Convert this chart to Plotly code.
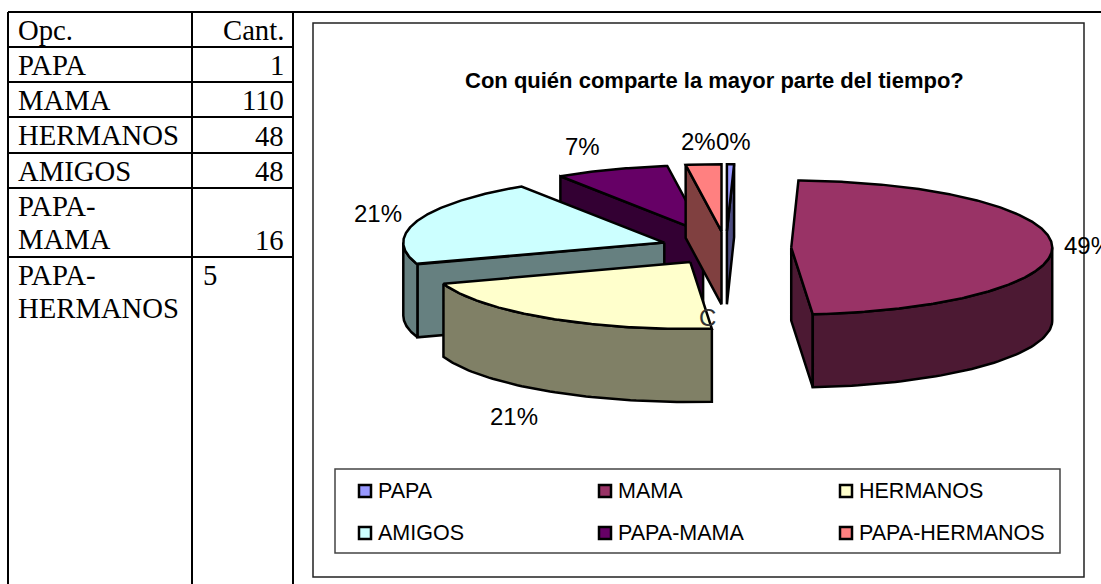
import numpy as np
import plotly.graph_objects as go

# ---- data ----
categories = ["PAPA", "MAMA", "HERMANOS", "AMIGOS", "PAPA-MAMA", "PAPA-HERMANOS"]
table_labels = [["PAPA"], ["MAMA"], ["HERMANOS"], ["AMIGOS"], ["PAPA-", "MAMA"], ["PAPA-", "HERMANOS"]]
values = [1, 110, 48, 48, 16, 5]
pct_labels = ["0%", "49%", "21%", "21%", "7%", "2%"]
title_text = "Con quién comparte la mayor parte del tiempo?"

# ---- style ----
top_colors = ["#9999FF", "#993366", "#FFFFCC", "#CCFFFF", "#660066", "#FF8080"]
side_colors = ["#4C4C80", "#4C1933", "#808066", "#668080", "#330033", "#804040"]
CX, CY, RX, RY, DEPTH, EXPLODE = 726, 248, 261, 67, 73, 0.25
draw_order = [4, 3, 5, 0, 2, 1]
label_pos = [(733, 141), (1088, 245), (514, 416), (378, 213), (582, 146), (698, 141)]

total = sum(values)
edges = np.concatenate([[0], np.cumsum(values)]) * 360.0 / total
fig = go.Figure()


def poly(xs, ys, color, name):
    fig.add_trace(go.Scatter(
        x=list(xs) + [xs[0]], y=list(ys) + [ys[0]], mode="lines", fill="toself",
        fillcolor=color, line=dict(color="black", width=2.5), name=name,
        showlegend=False, hoverinfo="name"))


for i in draw_order:
    a0, a1 = edges[i], edges[i + 1]
    mid = np.radians((a0 + a1) / 2)
    ox = CX + EXPLODE * RX * np.sin(mid)
    oy = CY - EXPLODE * RY * np.cos(mid)

    def rim(deg):
        r = np.radians(deg)
        return ox + RX * np.sin(r), oy - RY * np.cos(r)

    # visible cut faces
    for ang, visible in ((a0, np.sin(np.radians(a0)) < -1e-9), (a1, np.sin(np.radians(a1)) > 1e-9)):
        if visible:
            px, py = rim(ang)
            poly([ox, px, px, ox], [oy, py, py + DEPTH, oy + DEPTH], side_colors[i], categories[i])
    # visible outer wall
    w0, w1 = max(a0, 90), min(a1, 270)
    if w1 > w0:
        deg = np.linspace(w0, w1, 60)
        ax, ay = rim(deg)
        poly(np.concatenate([ax, ax[::-1]]), np.concatenate([ay, ay[::-1] + DEPTH]),
             side_colors[i], categories[i])
    # top face
    deg = np.linspace(a0, a1, max(4, int(a1 - a0) * 2))
    ax, ay = rim(deg)
    poly(np.concatenate([[ox], ax]), np.concatenate([[oy], ay]), top_colors[i], categories[i])

ann = []
SANS, SERIF = "Liberation Sans", "Liberation Serif"


def text(x, y, s, size, family=SANS, xa="center", ya="middle", bold=False, color="black"):
    ann.append(dict(x=x, y=y, xref="x", yref="y", text=f"<b>{s}</b>" if bold else s, showarrow=False,
                    xanchor=xa, yanchor=ya, align=xa if xa != "center" else "center",
                    font=dict(family=family, size=size, color=color),
                    borderpad=0, borderwidth=0))


# percentage labels
for i, (lx, ly) in enumerate(label_pos):
    text(lx, ly, pct_labels[i], 24)
text(707, 317, "C", 24, color="#333333")
text(714, 80, title_text, 22, bold=True)

# table
SZ = 28.7
LINE_GAP = 33
row_tops = [12, 47, 82, 117, 153, 188, 257]
text(18, 30, "Opc.", SZ, SERIF, "left")
text(284, 30, "Cant.", SZ, SERIF, "right")
for i, lines in enumerate(table_labels):
    top = row_tops[i + 1]
    for k, lab in enumerate(lines):
        text(18, top + 2 + k * LINE_GAP, lab, SZ, SERIF, "left", "top")
    if i == len(table_labels) - 1:
        text(203, top + 2, str(values[i]), SZ, SERIF, "left", "top")
    else:
        text(284, row_tops[i + 2] - 1, str(values[i]), SZ, SERIF, "right", "bottom")

line = dict(color="black", width=2)
shapes = []
for y in row_tops:
    shapes.append(dict(type="line", x0=8, x1=293, y0=y, y1=y, line=line, layer="below"))
shapes.append(dict(type="line", x0=293, x1=1101, y0=12, y1=12, line=line, layer="below"))
for x in (8, 192, 293):
    shapes.append(dict(type="line", x0=x, x1=x, y0=12, y1=584, line=line, layer="below"))
shapes.append(dict(type="rect", x0=313, x1=1084, y0=23, y1=577, line=dict(color="#222222", width=1.5), layer="below"))
shapes.append(dict(type="rect", x0=335, x1=1060, y0=469, y1=553, line=dict(color="#444444", width=1.5), layer="below"))

# legend
leg_x = [365, 605, 846]
leg_y = [491, 533]
for i, name in enumerate(categories):
    mx, my = leg_x[i % 3], leg_y[i // 3]
    fig.add_trace(go.Scatter(x=[mx], y=[my], mode="markers", showlegend=False, hoverinfo="name", name=name,
                             marker=dict(symbol="square", size=12, color=top_colors[i],
                                         line=dict(color="black", width=2.5))))
    text(mx + 13, my, name, 21.5, xa="left")

fig.update_layout(
    width=1101, height=584, margin=dict(l=0, r=0, t=0, b=0), autosize=False,
    paper_bgcolor="white", plot_bgcolor="white", showlegend=False,
    xaxis=dict(range=[0, 1101], visible=False, fixedrange=True),
    yaxis=dict(range=[584, 0], visible=False, fixedrange=True),
    annotations=ann, shapes=shapes)
fig.write_html("out.html", config=dict(displayModeBar=False),
               post_script="document.body.style.margin='0';document.documentElement.style.overflow='hidden';")
